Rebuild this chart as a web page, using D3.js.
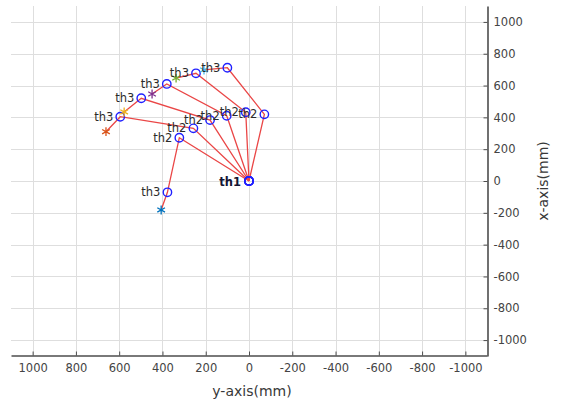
<!DOCTYPE html>
<html><head><meta charset="utf-8">
<script src="https://cdn.jsdelivr.net/npm/d3@7"></script>
<style>body{margin:0;background:#fff}svg{display:block}</style>
</head><body><svg id="c" width="565" height="402"></svg>
<script>
// Horizontal axis = robot Y (mm), vertical axis = robot X (mm)
const ticks = [-1000,-800,-600,-400,-200,0,200,400,600,800,1000];
const th1Y = [0,0,0,0,0,0];
const th1X = [0,0,0,0,0,0];
const th2Y = [322,257,180,103,15,-71];
const th2X = [272,331,383,410,432,419];
const th3Y = [377,595,498,380,245,100];
const th3X = [-71,404,520,610,677,712];
const eeY  = [406,661,577,448,337,208];
const eeX  = [-182,310,434,547,647,698];
const starColors = ["#0072BD","#D95319","#EDB120","#7E2F8E","#77AC30","#4DBEEE"];

const svg = d3.select("#c");
const x = d3.scaleLinear().domain([1100,-1100]).range([11,487]);
const y = d3.scaleLinear().domain([-1100,1100]).range([356,6]);
const font = "DejaVu Sans, Arial, sans-serif";

// grid
const g = svg.append("g");
g.selectAll(".gx").data(ticks).join("line")
  .attr("x1",d=>Math.round(x(d))+0.5).attr("x2",d=>Math.round(x(d))+0.5)
  .attr("y1",6).attr("y2",356).attr("stroke","#dedede").attr("stroke-width",1);
g.selectAll(".gy").data(ticks).join("line")
  .attr("y1",d=>Math.round(y(d))+0.5).attr("y2",d=>Math.round(y(d))+0.5)
  .attr("x1",11).attr("x2",487).attr("stroke","#dedede").attr("stroke-width",1);

// axes (inside ticks)
const fmt = d => String(d);
const xAx = svg.append("g").attr("transform","translate(0,355.5)")
  .call(d3.axisBottom(x).tickValues(ticks).tickSizeInner(-4).tickSizeOuter(0).tickPadding(8).tickFormat(fmt));
const yAx = svg.append("g").attr("transform","translate(487.5,0)")
  .call(d3.axisRight(y).tickValues(ticks).tickSizeInner(-4).tickSizeOuter(0).tickPadding(6).tickFormat(fmt));
[xAx,yAx].forEach(a=>{
  a.select(".domain").attr("stroke","#4d4d4d").attr("stroke-width",1.6);
  a.selectAll(".tick line").attr("stroke","#4d4d4d");
  a.selectAll(".tick text").attr("fill","#444").style("font-family",font).style("font-size","11.5px");
});

// axis titles
svg.append("text").attr("x",252).attr("y",396).attr("text-anchor","middle")
  .style("font-family",font).style("font-size","14px").attr("fill","#383838").text("y-axis(mm)");
svg.append("text").attr("transform","translate(548,181) rotate(-90)").attr("text-anchor","middle")
  .style("font-family",font).style("font-size","14px").attr("fill","#383838").text("x-axis(mm)");

// arms
const idx = d3.range(th2Y.length);
const line = d3.line().x(d=>x(d[0])).y(d=>y(d[1]));
const arms = svg.append("g");
idx.forEach(i=>{
  const pts = [[th1Y[i],th1X[i]],[th2Y[i],th2X[i]],[th3Y[i],th3X[i]],[eeY[i],eeX[i]]];
  arms.append("path").attr("d",line(pts)).attr("fill","none")
    .attr("stroke","#ea4646").attr("stroke-width",1.3);
});
idx.forEach(i=>{
  [[th1Y[i],th1X[i]],[th2Y[i],th2X[i]],[th3Y[i],th3X[i]]].forEach(p=>{
    arms.append("circle").attr("cx",x(p[0])).attr("cy",y(p[1])).attr("r",4.2)
      .attr("fill","none").attr("stroke","#2020ff").attr("stroke-width",1.4);
  });
  arms.append("path").attr("d",d3.symbol(d3.symbolAsterisk,55)())
    .attr("transform",`translate(${x(eeY[i])},${y(eeX[i])})`)
    .attr("fill","none").attr("stroke",starColors[i]).attr("stroke-width",1.3);
});

// labels
const lab = svg.append("g").style("font-family",font).style("font-size","11.5px")
  .attr("text-anchor","end").attr("dominant-baseline","central");
idx.forEach(i=>{
  lab.append("text").attr("x",x(th2Y[i])-7).attr("y",y(th2X[i])).attr("fill","#2b2b2b").text("th2");
  lab.append("text").attr("x",x(th3Y[i])-7).attr("y",y(th3X[i])).attr("fill","#2b2b2b").text("th3");
});
lab.append("text").attr("x",x(0)-8).attr("y",y(0)+1).attr("fill","#141433")
  .style("font-weight","bold").text("th1");
</script></body></html>
